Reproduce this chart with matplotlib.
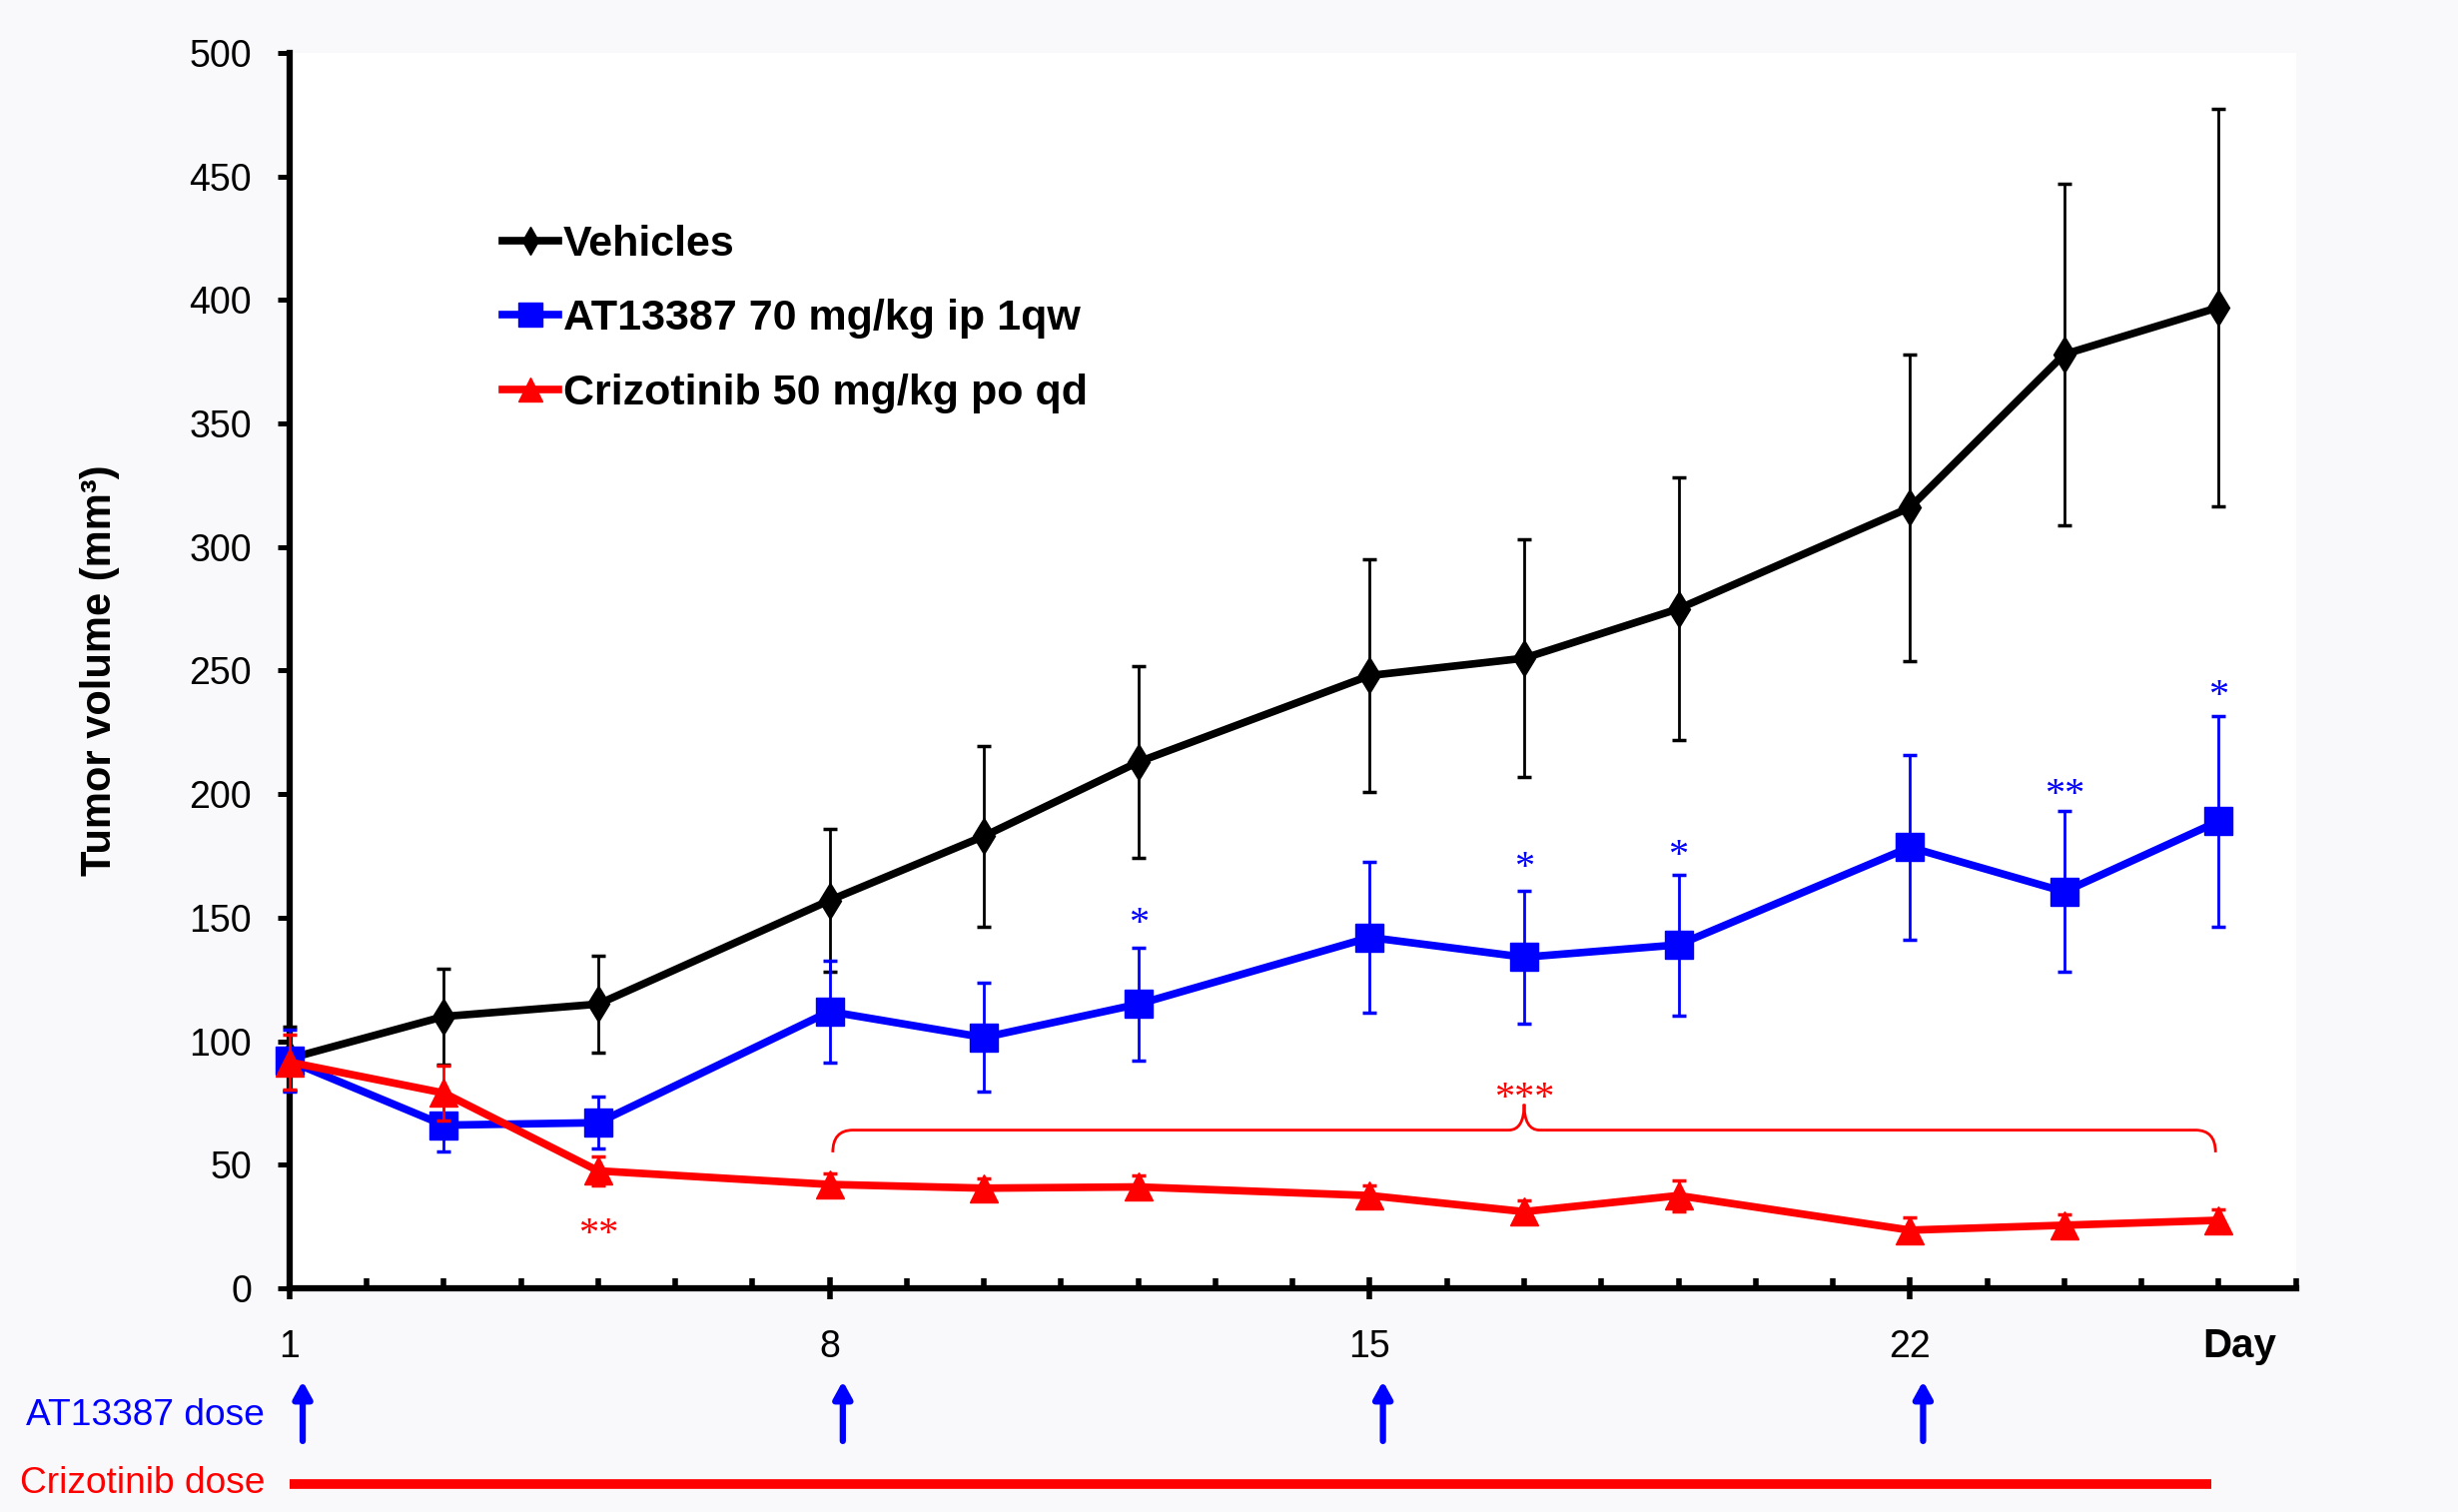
import matplotlib
matplotlib.use("Agg")
import matplotlib.pyplot as plt
from matplotlib.lines import Line2D
from matplotlib.path import Path
from matplotlib.patches import PathPatch

plt.rcParams['font.family'] = ['Liberation Sans', 'DejaVu Sans']

# measurement days
days = [1, 3, 5, 8, 10, 12, 15, 17, 19, 22, 24, 26]

vehicles = [93, 110, 115, 157, 183, 213, 248, 255, 275, 316, 378, 397]
vehicles_err = [13, 19.5, 19.5, 29, 36.5, 39, 47, 48, 53, 62, 69, 80.5]

at13387 = [92, 66, 67, 112, 101.5, 115, 142, 134, 139, 178.5, 160.5, 189]
at13387_err = [12.5, 10.5, 10.5, 20.5, 22, 23, 30.5, 27, 28.5, 37.5, 32.5, 42.5]

crizotinib = [91.5, 79, 47.5, 42, 40.5, 41, 37.5, 31, 37.5, 23.5, 25.5, 27.5]
crizotinib_err = [11, 11, 6, 4.3, 4, 4.5, 4, 4.5, 6.3, 5, 4.5, 4.3]

labels = ["Vehicles", "AT13387 70 mg/kg ip 1qw", "Crizotinib 50 mg/kg po qd"]

# significance marks (day, y, text)
blue_stars = [(12, 151.5, "*"), (17, 174, "*"), (19, 179, "*"), (24, 203.5, "**"), (26, 243.5, "*")]
red_stars = [(5, 25.5, "**"), (17, 80.5, "***")]

# dosing schedule
at_dose_days = [1, 8, 15, 22]
criz_dose_start, criz_dose_end = 1, 25.9

# brace over days 8..26
brace_x0, brace_mid, brace_x1 = 8.04, 17, 25.96
brace_y, brace_low, brace_tip = 64, 55, 74.5

fig = plt.figure(figsize=(24.61, 15.14), dpi=100, facecolor='#f9f9fb')
ax = fig.add_axes([0.1178, 0.148, 0.8162, 0.817])
ax.set_facecolor('white')

series = [
    (vehicles, vehicles_err, 'black', 'd', 18, 2),
    (at13387, at13387_err, '#0000ff', 's', 19.5, 3),
    (crizotinib, crizotinib_err, '#ff0000', '^', 20, 4),
]
for vals, errs, col, mk, ms, z in series:
    cont = ax.errorbar(days, vals, yerr=errs, color=col, lw=5.5, marker=mk, ms=ms,
                       elinewidth=2, capsize=5, capthick=2.5, zorder=z)
    for art in cont.get_children():
        art.set_clip_on(False)

ax.set_xlim(1, 27)
ax.set_ylim(0, 500)
ax.set_yticks(range(0, 501, 50))
ax.set_xticks(at_dose_days)
ax.set_xticklabels([str(d) for d in at_dose_days])
ax.set_xticks(range(1, 28), minor=True)

for s in ['top', 'right']:
    ax.spines[s].set_visible(False)
for s in ['left', 'bottom']:
    ax.spines[s].set_linewidth(4.5)

ax.tick_params(axis='y', direction='out', length=8.6, width=3.6, pad=18.7, labelsize=27)
ax.tick_params(axis='x', which='major', direction='inout', length=16, width=4, pad=21.5, labelsize=27)
ax.tick_params(axis='x', which='minor', direction='in', length=7, width=4)

ax.set_ylabel("Tumor volume (mm³)", fontsize=30, fontweight='bold')
ax.yaxis.set_label_coords(-0.0846, 0.5)

ax.text(26.27, -0.047, "Day", transform=ax.get_xaxis_transform(), ha='center', va='center',
        fontsize=29, fontweight='bold')

# legend
handles = [
    Line2D([], [], color='black', lw=5.5, marker='d', ms=14),
    Line2D([], [], color='#0000ff', lw=5.5, marker='s', ms=17),
    Line2D([], [], color='#ff0000', lw=5.5, marker='^', ms=17),
]
ax.legend(handles, labels, loc='upper left', bbox_to_anchor=(0.106, 0.861), frameon=False,
          prop={'weight': 'bold', 'size': 31}, handlelength=1.3, handletextpad=0.12,
          labelspacing=0.8, borderpad=0, borderaxespad=0)

# significance stars
for x, y, s in blue_stars:
    ax.annotate(s, (x, y), xytext=(0, -14), textcoords='offset points', ha='center',
                va='baseline', color='#0000ff', fontsize=29, family='Liberation Serif')
for x, y, s in red_stars:
    ax.annotate(s, (x, y), xytext=(0, -14), textcoords='offset points', ha='center',
                va='baseline', color='#ff0000', fontsize=29, family='Liberation Serif')

# brace
verts = [
    (brace_x0, brace_low), (brace_x0, brace_y), (brace_x0 + 0.26, brace_y),
    (brace_mid - 0.2, brace_y), (brace_mid, brace_y), (brace_mid, brace_tip),
    (brace_mid, brace_y), (brace_mid + 0.2, brace_y),
    (brace_x1 - 0.26, brace_y), (brace_x1, brace_y), (brace_x1, brace_low),
]
codes = [Path.MOVETO, Path.CURVE3, Path.CURVE3,
         Path.LINETO, Path.CURVE3, Path.CURVE3,
         Path.CURVE3, Path.CURVE3,
         Path.LINETO, Path.CURVE3, Path.CURVE3]
ax.add_patch(PathPatch(Path(verts, codes), fill=False, edgecolor='#ff0000', lw=2, zorder=5))

# dosing annotations below the axis
trans = ax.get_xaxis_transform()
for d in at_dose_days:
    ax.annotate("", xy=(d + 0.17, -0.0752), xytext=(d + 0.17, -0.1237), xycoords=trans,
                textcoords=trans, annotation_clip=False,
                arrowprops=dict(arrowstyle='-|>,head_length=1.0,head_width=0.55',
                                color='#0000ff', lw=4.5, shrinkA=0, shrinkB=0))
ax.plot([criz_dose_start, criz_dose_end], [-0.1585, -0.1585], transform=trans, color='#ff0000',
        lw=7, solid_capstyle='butt', clip_on=False)

fig.text(0.1077, 0.064, "AT13387 dose", color='#0000ff', fontsize=26.7, ha='right', va='center')
fig.text(0.1077, 0.019, "Crizotinib dose", color='#ff0000', fontsize=26.7, ha='right', va='center')

fig.savefig("out.png", dpi=100, facecolor=fig.get_facecolor())
